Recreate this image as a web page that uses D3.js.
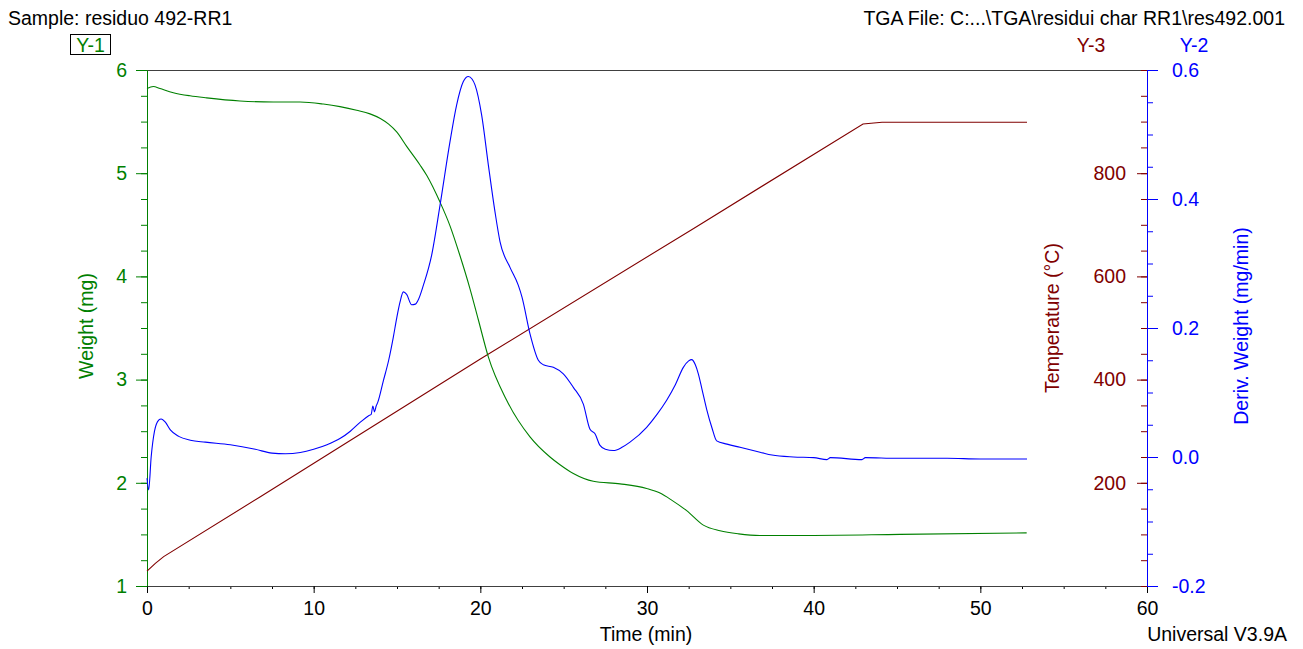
<!DOCTYPE html>
<html>
<head>
<meta charset="utf-8">
<script src="https://d3js.org/d3.v7.min.js"></script>
<style>
body { margin: 0; background: #fff; }
svg { display: block; font-family: "Liberation Sans", Arial, sans-serif; }
.curve { fill: none; stroke-width: 1.1px; }
</style>
<title>TGA residuo 492-RR1</title>
</head>
<body>
<script>
// time (min), weight (mg)
var weight = [
  [0, 5.82], [0.38, 5.84], [0.78, 5.82], [1.58, 5.78], [2.58, 5.75], [3.58, 5.73],
  [5.58, 5.70], [7.58, 5.69], [9.18, 5.69], [10.58, 5.67], [11.58, 5.645], [12.58, 5.61],
  [13.38, 5.575], [14.0, 5.53], [14.5, 5.475], [14.98, 5.40], [15.58, 5.26], [16.38, 5.08],
  [16.78, 4.98], [17.58, 4.72], [18.18, 4.49], [18.78, 4.20], [19.38, 3.88], [19.88, 3.58],
  [20.48, 3.22], [21.58, 2.80], [22.98, 2.445], [24.18, 2.25], [24.78, 2.175], [25.58, 2.09],
  [26.78, 2.015], [28.38, 1.99], [29.98, 1.945], [30.78, 1.90], [31.5, 1.83], [32.38, 1.73],
  [33.38, 1.59], [34.38, 1.535], [35.5, 1.505], [36.78, 1.49], [40, 1.49], [45.18, 1.50],
  [52.78, 1.515]
];

// time (min), deriv. weight (mg/min)
var deriv = [
  [0, -0.033], [0.1, -0.051], [0.25, 0.0], [0.45, 0.04], [0.7, 0.057], [0.85, 0.059],
  [1.1, 0.054], [1.4, 0.042], [1.9, 0.032], [2.6, 0.026], [3.5, 0.023], [5, 0.019],
  [6.5, 0.012], [7.5, 0.006], [8.3, 0.005], [9.2, 0.007], [10.0, 0.012], [10.8, 0.019],
  [11.6, 0.029], [12.2, 0.04], [12.8, 0.054], [13.3, 0.064], [13.45, 0.066], [13.55, 0.079],
  [13.65, 0.070], [13.75, 0.079], [13.85, 0.085], [14.18, 0.118], [14.5, 0.15], [14.78, 0.186],
  [14.98, 0.215], [15.18, 0.24], [15.38, 0.256], [15.58, 0.252], [15.88, 0.236], [16.1, 0.237],
  [16.3, 0.245], [16.58, 0.266], [17.08, 0.313], [17.58, 0.39], [18.18, 0.489], [18.58, 0.546],
  [18.98, 0.582], [19.28, 0.590], [19.5, 0.586], [19.68, 0.577], [20.08, 0.530], [20.48, 0.453],
  [20.88, 0.380], [21.18, 0.334], [21.78, 0.294], [22.28, 0.266], [22.5, 0.248], [22.98, 0.191],
  [23.48, 0.150], [23.78, 0.143], [24.38, 0.139], [24.98, 0.129], [25.58, 0.108], [26.18, 0.082],
  [26.58, 0.043], [26.88, 0.036], [27.18, 0.018], [27.5, 0.012], [27.98, 0.010], [28.5, 0.015],
  [28.98, 0.023], [29.98, 0.046], [30.6, 0.066], [31.18, 0.088], [31.7, 0.112], [32.18, 0.139],
  [32.5, 0.149], [32.68, 0.151], [32.9, 0.143], [33.08, 0.129], [33.3, 0.105], [33.58, 0.074],
  [33.9, 0.045], [34.18, 0.025], [34.8, 0.02], [35.58, 0.015], [36.78, 0.0075], [37.5, 0.003],
  [38.78, 0.0], [40.0, -0.001], [40.8, -0.004], [41.0, -0.001], [42.9, -0.004], [43.1, -0.001],
  [45, -0.002], [48, -0.002], [50, -0.003], [52.8, -0.003]
];

// time (min), temperature (°C)
var temperature = [
  [0, 29], [0.5, 44], [1, 57], [6.8, 173], [20, 440], [32.8, 693],
  [42.96, 895.5], [44.1, 898.6], [52.8, 898.6]
];

var timeTicks = [0, 10, 20, 30, 40, 50, 60];
var weightTicks = [1, 2, 3, 4, 5, 6];
var derivTicks = [-0.2, 0.0, 0.2, 0.4, 0.6];
var tempTicks = [200, 400, 600, 800];

var green = "#008000", blue = "#0000ff", red = "#800000";
var fs = 19.5;

var width = 1303, height = 649;
var plotLeft = 147, plotRight = 1147, plotTop = 70, plotBottom = 586;

var svg = d3.select("body").append("svg")
    .attr("width", width)
    .attr("height", height);

var x = d3.scaleLinear().domain([0, 60]).range([plotLeft, plotRight]);
var yW = d3.scaleLinear().domain([1, 6]).range([plotBottom, plotTop]);
var yD = d3.scaleLinear().domain([-0.2, 0.6]).range([plotBottom, plotTop]);
var yT = d3.scaleLinear().domain([0, 1000]).range([plotBottom, plotTop]);

// top frame line
svg.append("line")
    .attr("x1", plotLeft).attr("x2", plotRight)
    .attr("y1", plotTop + 0.5).attr("y2", plotTop + 0.5)
    .attr("stroke", "#404040");

function styleText(g, color) {
  g.selectAll("text").attr("font-size", fs).attr("fill", color).attr("font-family", null);
}

// x axis
svg.append("g")
    .attr("transform", "translate(0," + plotBottom + ")")
    .call(d3.axisBottom(x).tickValues(d3.range(0, 60.01, 2.5)).tickSize(3).tickFormat(""))
    .call(function(g) { g.select(".domain").remove(); });
svg.append("g")
    .attr("transform", "translate(0," + plotBottom + ")")
    .call(d3.axisBottom(x).tickValues(timeTicks).tickSize(7).tickSizeOuter(0).tickPadding(8).tickFormat(d3.format("d")))
    .call(function(g) {
      g.select(".domain").attr("stroke", "#404040");
      styleText(g, "#000");
    });

// left weight axis
svg.append("g")
    .attr("transform", "translate(" + plotLeft + ",0)")
    .call(d3.axisLeft(yW).tickValues(d3.range(1, 6.01, 0.25)).tickSize(6).tickFormat(""))
    .call(function(g) { g.select(".domain").remove(); g.selectAll("line").attr("stroke", green); });
svg.append("g")
    .attr("transform", "translate(" + plotLeft + ",0)")
    .call(d3.axisLeft(yW).tickValues(weightTicks).tickSize(11).tickSizeOuter(0).tickPadding(9).tickFormat(d3.format("d")))
    .call(function(g) {
      g.select(".domain").attr("stroke", green);
      g.selectAll("line").attr("stroke", green);
      styleText(g, green);
    });

// temperature axis (ticks inside, on the right)
svg.append("g")
    .attr("transform", "translate(" + plotRight + ",0)")
    .call(d3.axisLeft(yT).tickValues(d3.range(0, 1000.1, 50)).tickSize(6).tickFormat(""))
    .call(function(g) { g.select(".domain").remove(); g.selectAll("line").attr("stroke", red); });
svg.append("g")
    .attr("transform", "translate(" + plotRight + ",0)")
    .call(d3.axisLeft(yT).tickValues(tempTicks).tickSize(10).tickPadding(11).tickFormat(d3.format("d")))
    .call(function(g) {
      g.select(".domain").remove();
      g.selectAll("line").attr("stroke", red);
      styleText(g, red);
    });

// deriv weight axis
svg.append("g")
    .attr("transform", "translate(" + plotRight + ",0)")
    .call(d3.axisRight(yD).tickValues(d3.range(-0.2, 0.601, 0.05)).tickSize(6).tickFormat(""))
    .call(function(g) { g.select(".domain").remove(); g.selectAll("line").attr("stroke", blue); });
svg.append("g")
    .attr("transform", "translate(" + plotRight + ",0)")
    .call(d3.axisRight(yD).tickValues(derivTicks).tickSize(11).tickSizeOuter(0).tickPadding(14)
      .tickFormat(function(d) { return d.toFixed(1); }))
    .call(function(g) {
      g.select(".domain").attr("stroke", blue);
      g.selectAll("line").attr("stroke", blue);
      styleText(g, blue);
    });

// curves
var lineW = d3.line().x(function(d) { return x(d[0]); }).y(function(d) { return yW(d[1]); }).curve(d3.curveMonotoneX);
var lineD = d3.line().x(function(d) { return x(d[0]); }).y(function(d) { return yD(d[1]); }).curve(d3.curveMonotoneX);
var lineT = d3.line().x(function(d) { return x(d[0]); }).y(function(d) { return yT(d[1]); });

svg.append("path").attr("class", "curve").attr("stroke", red).attr("d", lineT(temperature));
svg.append("path").attr("class", "curve").attr("stroke", green).attr("d", lineW(weight));
svg.append("path").attr("class", "curve").attr("stroke", blue).attr("d", lineD(deriv));

// texts
function label(txt, px, py, color, anchor, rotate) {
  var t = svg.append("text")
      .attr("font-size", fs)
      .attr("fill", color)
      .attr("text-anchor", anchor || "start")
      .text(txt);
  if (rotate) t.attr("transform", "translate(" + px + "," + py + ") rotate(-90)");
  else t.attr("x", px).attr("y", py);
  return t;
}

label("Sample: residuo 492-RR1", 8, 25, "#000");
label("TGA File: C:...\\TGA\\residui char RR1\\res492.001", 1285, 25, "#000", "end");
label("Y-3", 1091, 52, red, "middle");
label("Y-2", 1194, 52, blue, "middle");

svg.append("rect")
    .attr("x", 70.5).attr("y", 34.5)
    .attr("width", 40).attr("height", 20)
    .attr("fill", "none").attr("stroke", "#000");
label("Y-1", 90.5, 52, green, "middle");

label("Time (min)", 646, 641, "#000", "middle");
label("Universal V3.9A", 1287, 641, "#000", "end");

label("Weight (mg)", 93, 326, green, "middle", true);
label("Temperature (°C)", 1059, 318, red, "middle", true);
label("Deriv. Weight (mg/min)", 1248, 326, blue, "middle", true);
</script>
</body>
</html>
